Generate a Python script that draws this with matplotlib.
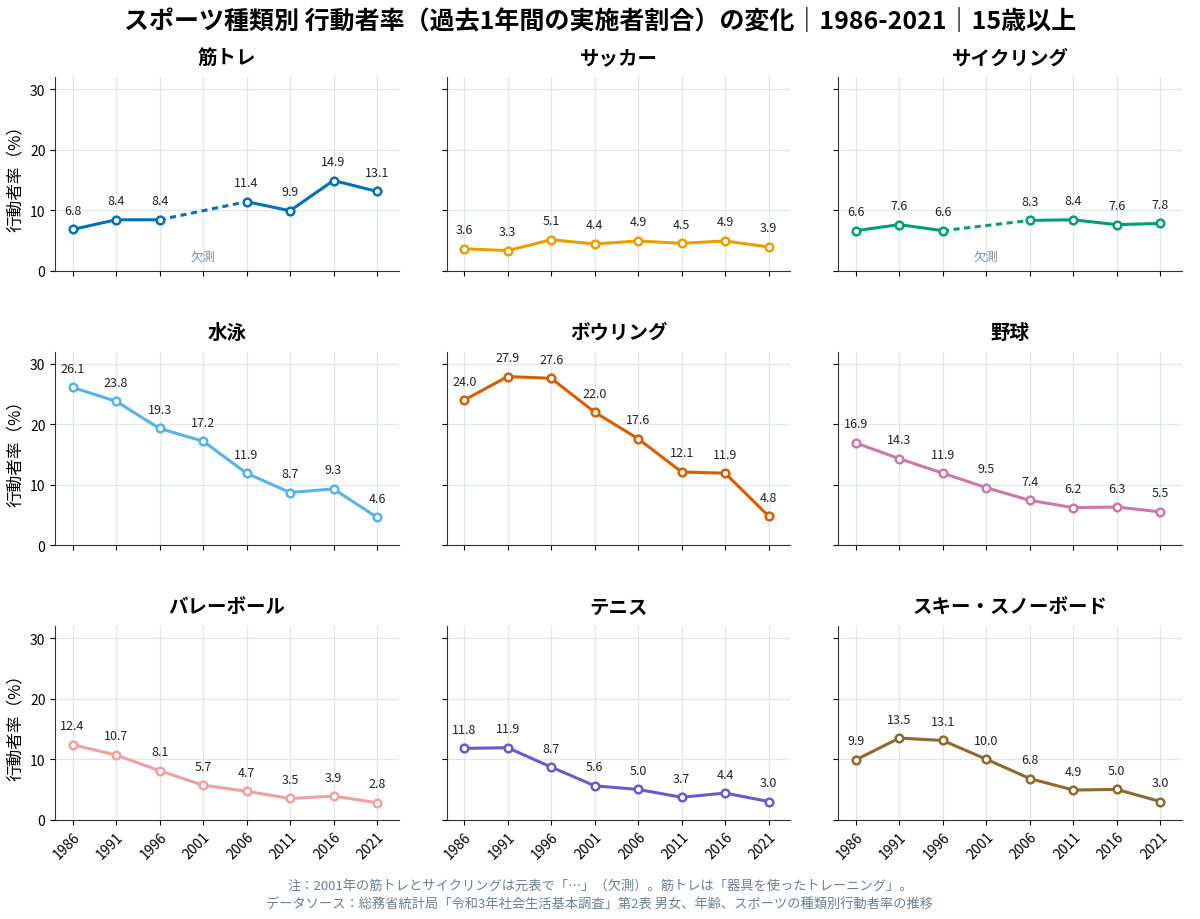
import matplotlib
matplotlib.use("Agg")
import matplotlib.pyplot as plt
import numpy as np

plt.rcParams['font.family'] = ['Noto Sans CJK JP', 'DejaVu Sans']

years = [1986, 1991, 1996, 2001, 2006, 2011, 2016, 2021]
sports = ["筋トレ", "サッカー", "サイクリング", "水泳", "ボウリング", "野球",
          "バレーボール", "テニス", "スキー・スノーボード"]
values = [
    [6.8, 8.4, 8.4, None, 11.4, 9.9, 14.9, 13.1],
    [3.6, 3.3, 5.1, 4.4, 4.9, 4.5, 4.9, 3.9],
    [6.6, 7.6, 6.6, None, 8.3, 8.4, 7.6, 7.8],
    [26.1, 23.8, 19.3, 17.2, 11.9, 8.7, 9.3, 4.6],
    [24.0, 27.9, 27.6, 22.0, 17.6, 12.1, 11.9, 4.8],
    [16.9, 14.3, 11.9, 9.5, 7.4, 6.2, 6.3, 5.5],
    [12.4, 10.7, 8.1, 5.7, 4.7, 3.5, 3.9, 2.8],
    [11.8, 11.9, 8.7, 5.6, 5.0, 3.7, 4.4, 3.0],
    [9.9, 13.5, 13.1, 10.0, 6.8, 4.9, 5.0, 3.0],
]
colors = ["#0072B2", "#E69F00", "#009E73", "#56B4E9", "#D55E00", "#CC79A7",
          "#F0A0A0", "#6A5ACD", "#8B6B2E"]

fig, axes = plt.subplots(3, 3, figsize=(12, 9.2), dpi=100, sharey=True)
fig.subplots_adjust(left=0.046, right=0.985, top=0.915, bottom=0.108, hspace=0.42, wspace=0.14)

for i, ax in enumerate(axes.flat):
    v = values[i]
    c = colors[i]
    xs = np.array(years, dtype=float)
    ys = np.array([np.nan if a is None else a for a in v], dtype=float)
    ax.plot(xs, ys, color=c, lw=2.2, zorder=2)
    if np.isnan(ys).any():
        k = int(np.where(np.isnan(ys))[0][0])
        ax.plot([xs[k-1], xs[k+1]], [ys[k-1], ys[k+1]], color=c, lw=2.2, ls=(0, (2, 1.5)), zorder=2)
        ax.text(xs[k], 2.3, "欠測", ha='center', va='center', fontsize=9, color='#7a8fa0')
    m = ~np.isnan(ys)
    ax.plot(xs[m], ys[m], 'o', ms=5.5, mfc='white', mec=c, mew=1.8, zorder=3)
    for x, y in zip(xs[m], ys[m]):
        ax.annotate(f"{y:.1f}", (x, y), xytext=(0, 9), textcoords='offset points',
                    ha='center', va='bottom', fontsize=9, color='#222222')
    ax.set_title(sports[i], fontsize=14, fontweight='bold', pad=10)
    ax.set_ylim(0, 32)
    ax.set_xlim(1984, 2023.5)
    ax.set_yticks([0, 10, 20, 30])
    ax.set_xticks(years)
    ax.grid(True, color='#dde8e8', lw=0.9)
    ax.set_axisbelow(True)
    for s in ['top', 'right']:
        ax.spines[s].set_visible(False)
    ax.spines['left'].set_color('#333333')
    ax.spines['bottom'].set_color('#333333')
    ax.tick_params(labelsize=10)
    if i >= 6:
        ax.set_xticklabels([str(y) for y in years], rotation=45, ha='right', rotation_mode='anchor')
    else:
        ax.set_xticklabels([])
    if i % 3 == 0:
        ax.set_ylabel("行動者率（%）", fontsize=12)

fig.suptitle("スポーツ種類別 行動者率（過去1年間の実施者割合）の変化｜1986-2021｜15歳以上",
             fontsize=18, fontweight='bold', y=0.99)
fig.text(0.5, 0.033, "注：2001年の筋トレとサイクリングは元表で「…」（欠測）。筋トレは「器具を使ったトレーニング」。",
         ha='center', fontsize=9.5, color='#6a7f90')
fig.text(0.5, 0.012, "データソース：総務省統計局「令和3年社会生活基本調査」第2表 男女、年齢、スポーツの種類別行動者率の推移",
         ha='center', fontsize=9.5, color='#6a7f90')
fig.savefig("out.png")
